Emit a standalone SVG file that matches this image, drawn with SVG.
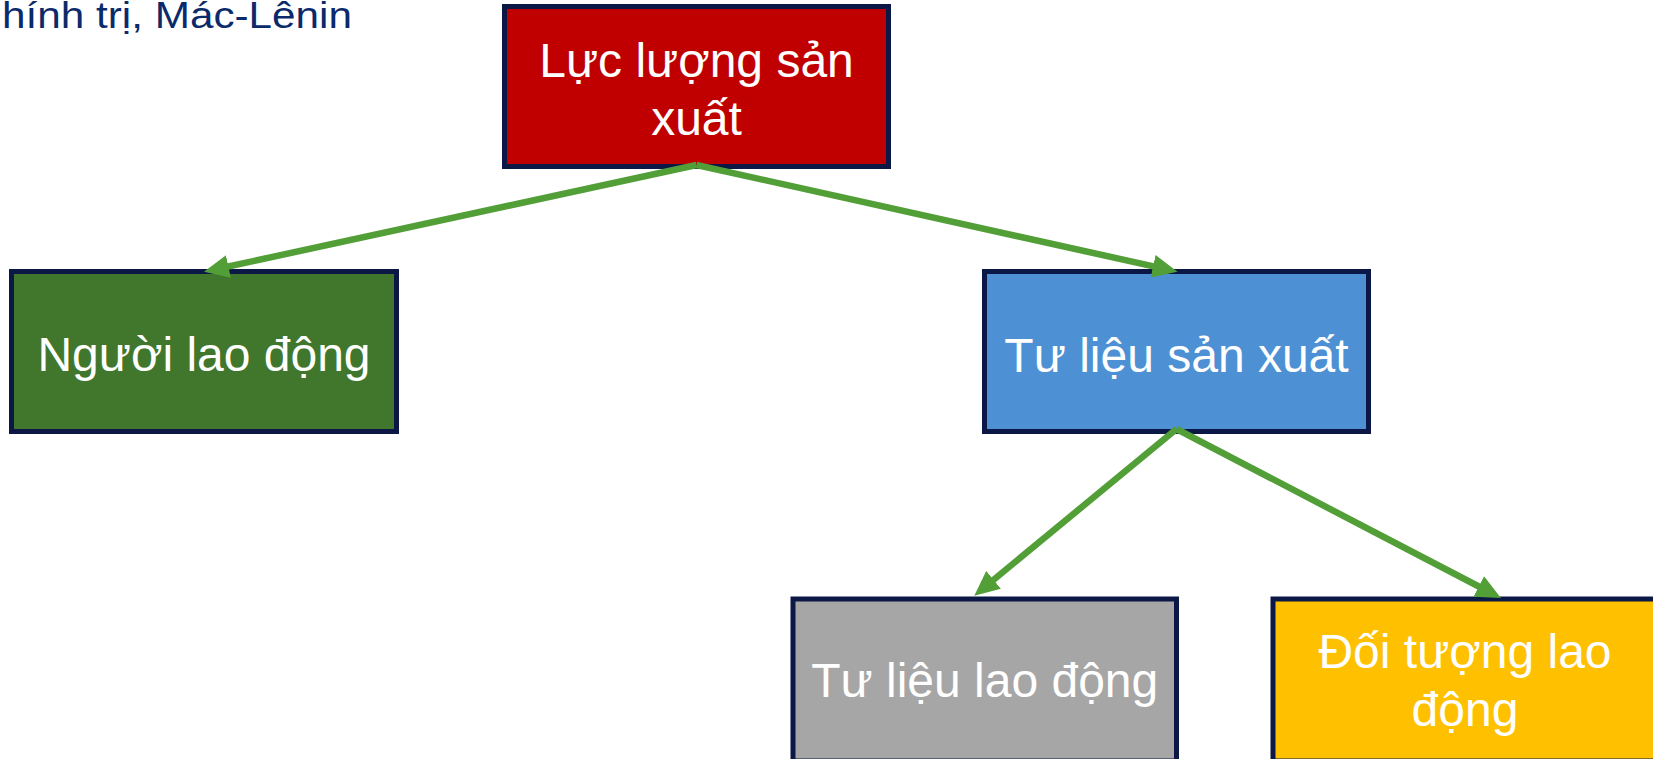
<svg xmlns="http://www.w3.org/2000/svg" width="1653" height="759" viewBox="0 0 1653 759">
  <defs>
    <style>
      .box { stroke: #0B1846; stroke-width: 5; }
      .lbl { font-family: "Liberation Sans", Arial, sans-serif; font-size: 48px; fill: #FFFFFF; text-anchor: middle; }
      .conn { fill: none; stroke: #529E37; stroke-width: 6.5; stroke-linejoin: miter; }
      .title { font-family: "Liberation Sans", Arial, sans-serif; font-size: 36px; fill: #0B2A6B; }
    </style>
    <marker id="arr" markerUnits="userSpaceOnUse" markerWidth="28" markerHeight="26" refX="12" refY="11.5" orient="auto">
      <path d="M0,0 L25,11.5 L0,23 Z" fill="#529E37"/>
    </marker>
  </defs>
  <rect width="1653" height="759" fill="#FFFFFF"/>
  <text class="title" x="2" y="28" textLength="350" lengthAdjust="spacingAndGlyphs">hính trị, Mác-Lênin</text>

  <g id="node-lucluong">
    <rect class="box" x="504.5" y="6.5" width="384" height="160" fill="#C00000"/>
    <text class="lbl" x="696.5" y="77">Lực lượng sản</text>
    <text class="lbl" x="696.5" y="135">xuất</text>
  </g>
  <g id="node-nguoilaodong">
    <rect class="box" x="11.5" y="271.5" width="385" height="160" fill="#41772C"/>
    <text class="lbl" x="204" y="371">Người lao động</text>
  </g>
  <g id="node-tulieusanxuat">
    <rect class="box" x="984.5" y="271.5" width="384" height="160" fill="#4E90D4"/>
    <text class="lbl" x="1176.5" y="371.5">Tư liệu sản xuất</text>
  </g>
  <g id="node-tulieulaodong">
    <rect class="box" x="793" y="599" width="383.5" height="162" fill="#A6A6A6"/>
    <text class="lbl" x="984.75" y="697">Tư liệu lao động</text>
  </g>
  <g id="node-doituong">
    <rect class="box" x="1273" y="599" width="384" height="162" fill="#FFC000"/>
    <text class="lbl" x="1465" y="668">Đối tượng lao</text>
    <text class="lbl" x="1465" y="726">động</text>
  </g>

  <g id="connectors">
    <path class="conn" d="M696.5,165 L216.7,269" marker-end="url(#arr)"/>
    <path class="conn" d="M696.5,165 L1164.8,268.9" marker-end="url(#arr)"/>
    <path class="conn" d="M1176.5,429 L984.3,587.4" marker-end="url(#arr)"/>
    <path class="conn" d="M1176.5,429 L1489.4,592" marker-end="url(#arr)"/>
  </g>
</svg>
